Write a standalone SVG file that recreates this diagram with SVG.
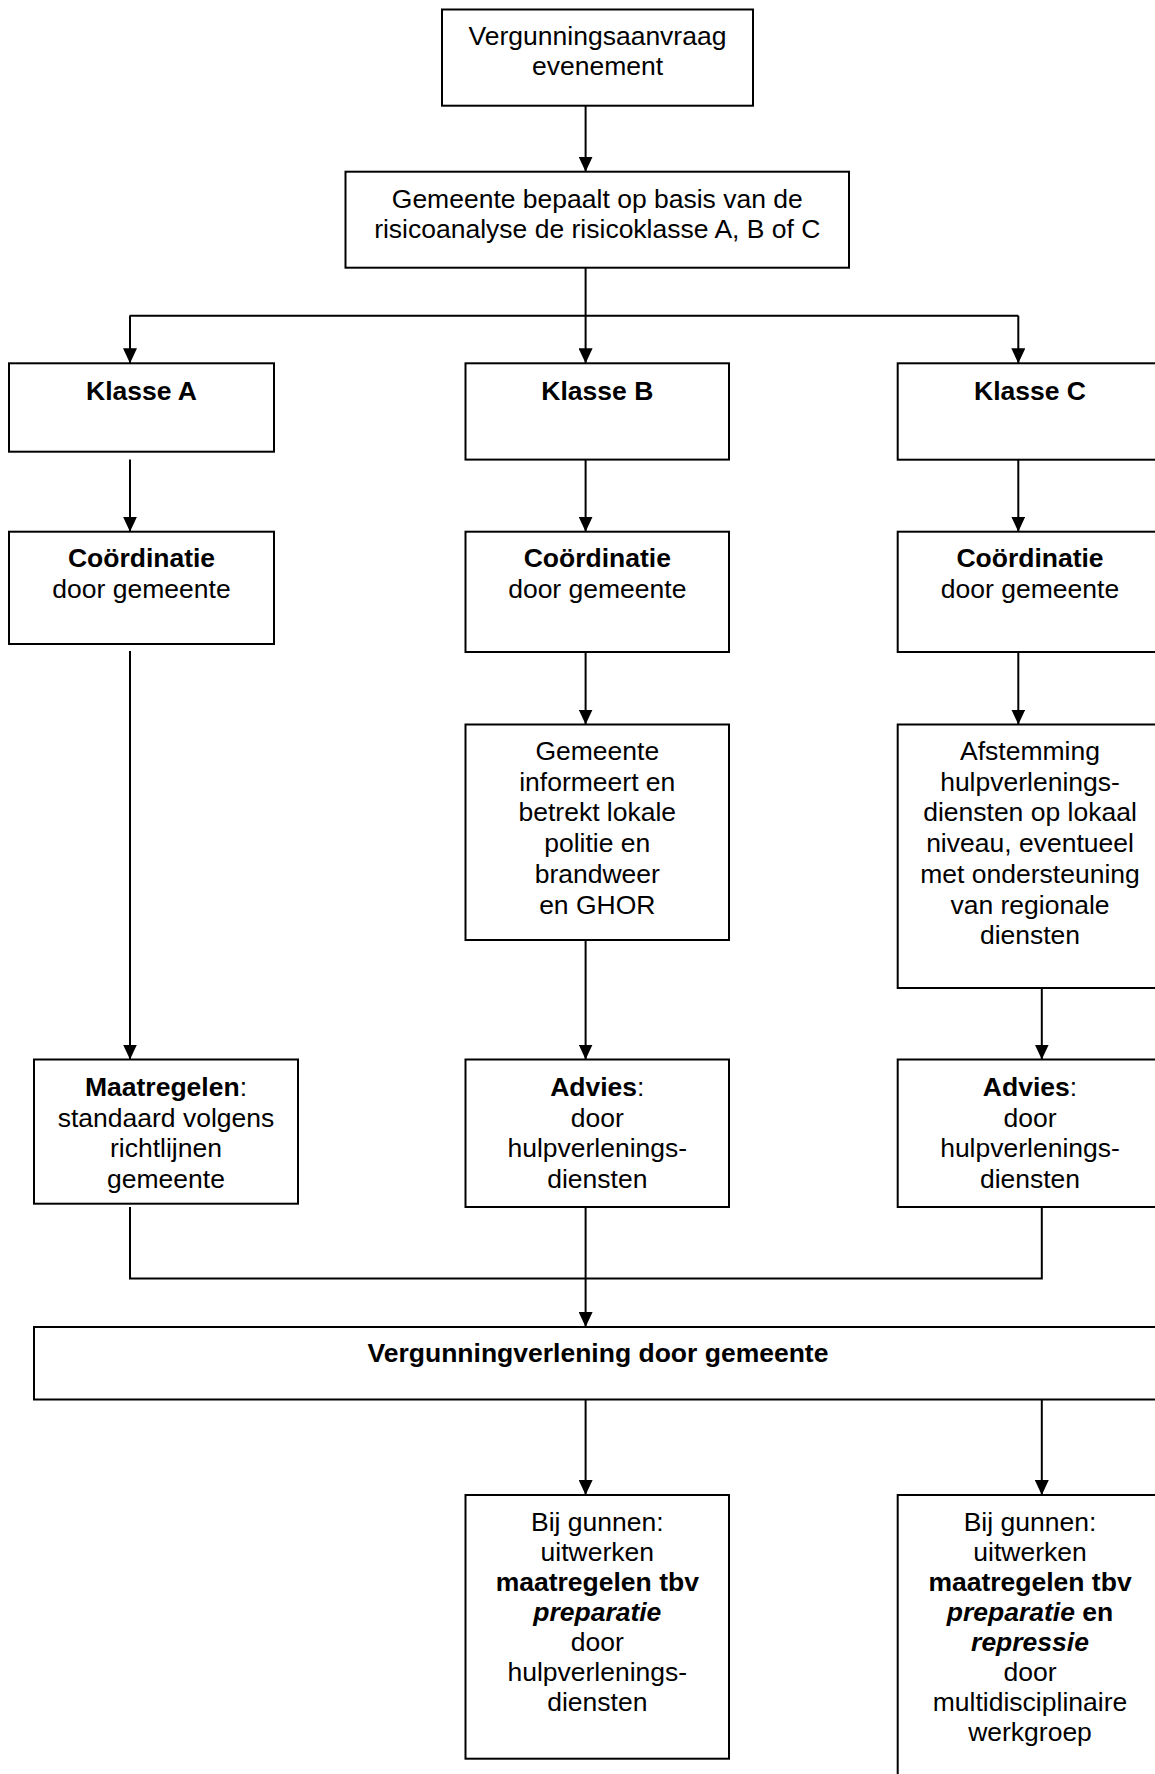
<svg xmlns="http://www.w3.org/2000/svg" width="1155" height="1774" viewBox="0 0 1155 1774">
<style>
  .box { fill: #ffffff; stroke: #000000; stroke-width: 2; }
  .con { fill: none; stroke: #000000; stroke-width: 2; }
  text { font-family: "Liberation Sans", Arial, sans-serif; font-size: 26.5px; fill: #000000; text-anchor: middle; }
  .b { font-weight: bold; }
  .bi { font-weight: bold; font-style: italic; }
</style>
<defs>
  <marker id="arr" markerUnits="userSpaceOnUse" markerWidth="15" markerHeight="14" refX="15" refY="7" orient="auto">
    <path d="M0,0 L15,7 L0,14 Z" fill="#000000"/>
  </marker>
</defs>
<rect width="1155" height="1774" fill="#ffffff"/>

<g id="connectors">
  <line class="con" x1="585.6" y1="105.7" x2="585.6" y2="171.7" marker-end="url(#arr)"/>
  <line class="con" x1="585.6" y1="267.7" x2="585.6" y2="315.7"/>
  <line class="con" x1="129.6" y1="315.7" x2="1018.3" y2="315.7"/>
  <line class="con" x1="130" y1="315.7" x2="130" y2="363.3" marker-end="url(#arr)"/>
  <line class="con" x1="585.6" y1="315.7" x2="585.6" y2="363.3" marker-end="url(#arr)"/>
  <line class="con" x1="1018.3" y1="315.7" x2="1018.3" y2="363.3" marker-end="url(#arr)"/>

  <line class="con" x1="130" y1="459.6" x2="130" y2="531.7" marker-end="url(#arr)"/>
  <line class="con" x1="585.6" y1="459.6" x2="585.6" y2="531.7" marker-end="url(#arr)"/>
  <line class="con" x1="1018.3" y1="459.6" x2="1018.3" y2="531.7" marker-end="url(#arr)"/>

  <line class="con" x1="130" y1="651" x2="130" y2="1059.5" marker-end="url(#arr)"/>
  <line class="con" x1="585.6" y1="652" x2="585.6" y2="724.5" marker-end="url(#arr)"/>
  <line class="con" x1="1018.3" y1="652" x2="1018.3" y2="724.5" marker-end="url(#arr)"/>

  <line class="con" x1="585.6" y1="940" x2="585.6" y2="1059.5" marker-end="url(#arr)"/>
  <line class="con" x1="1041.8" y1="988" x2="1041.8" y2="1059.5" marker-end="url(#arr)"/>

  <polyline class="con" points="130,1207 130,1278.5 1041.8,1278.5 1041.8,1207"/>
  <line class="con" x1="585.6" y1="1207" x2="585.6" y2="1327" marker-end="url(#arr)"/>

  <line class="con" x1="585.6" y1="1399.5" x2="585.6" y2="1495" marker-end="url(#arr)"/>
  <line class="con" x1="1041.8" y1="1399.5" x2="1041.8" y2="1495" marker-end="url(#arr)"/>
</g>

<g id="n-aanvraag">
  <rect class="box" x="442" y="9.5" width="311" height="96.2"/>
  <text x="597.5" y="45">Vergunningsaanvraag</text>
  <text x="597.5" y="75">evenement</text>
</g>

<g id="n-risicoklasse">
  <rect class="box" x="345.5" y="171.7" width="503.5" height="96"/>
  <text x="597.3" y="208">Gemeente bepaalt op basis van de</text>
  <text x="597.3" y="238">risicoanalyse de risicoklasse A, B of C</text>
</g>

<g id="n-klasse-a">
  <rect class="box" x="9" y="363.3" width="265" height="88.4"/>
  <text class="b" x="141.5" y="399.5">Klasse A</text>
</g>
<g id="n-klasse-b">
  <rect class="box" x="465.5" y="363.3" width="263.5" height="96.3"/>
  <text class="b" x="597.3" y="399.5">Klasse B</text>
</g>
<g id="n-klasse-c">
  <rect class="box" x="897.7" y="363.3" width="264.3" height="96.4"/>
  <text class="b" x="1030" y="399.5">Klasse C</text>
</g>

<g id="n-coord-a">
  <rect class="box" x="9" y="531.7" width="265" height="112.3"/>
  <text class="b" x="141.5" y="567">Coördinatie</text>
  <text x="141.5" y="598">door gemeente</text>
</g>
<g id="n-coord-b">
  <rect class="box" x="465.5" y="531.7" width="263.5" height="120.3"/>
  <text class="b" x="597.3" y="567">Coördinatie</text>
  <text x="597.3" y="598">door gemeente</text>
</g>
<g id="n-coord-c">
  <rect class="box" x="897.7" y="531.7" width="264.3" height="120.3"/>
  <text class="b" x="1030" y="567">Coördinatie</text>
  <text x="1030" y="598">door gemeente</text>
</g>

<g id="n-informeert">
  <rect class="box" x="465.5" y="724.5" width="263.5" height="215.5"/>
  <text x="597.3" y="760">Gemeente</text>
  <text x="597.3" y="790.7">informeert en</text>
  <text x="597.3" y="821.4">betrekt lokale</text>
  <text x="597.3" y="852.1">politie en</text>
  <text x="597.3" y="882.8">brandweer</text>
  <text x="597.3" y="913.5">en GHOR</text>
</g>

<g id="n-afstemming">
  <rect class="box" x="897.7" y="724.5" width="264.3" height="263.5"/>
  <text x="1030" y="760">Afstemming</text>
  <text x="1030" y="790.7">hulpverlenings-</text>
  <text x="1030" y="821.4">diensten op lokaal</text>
  <text x="1030" y="852.1">niveau, eventueel</text>
  <text x="1030" y="882.8">met ondersteuning</text>
  <text x="1030" y="913.5">van regionale</text>
  <text x="1030" y="944.2">diensten</text>
</g>

<g id="n-maatregelen">
  <rect class="box" x="34" y="1059.5" width="264" height="144.2"/>
  <text x="166" y="1096"><tspan class="b">Maatregelen</tspan>:</text>
  <text x="166" y="1126.5">standaard volgens</text>
  <text x="166" y="1157">richtlijnen</text>
  <text x="166" y="1187.5">gemeente</text>
</g>
<g id="n-advies-b">
  <rect class="box" x="465.5" y="1059.5" width="263.5" height="147.5"/>
  <text x="597.3" y="1096"><tspan class="b">Advies</tspan>:</text>
  <text x="597.3" y="1126.5">door</text>
  <text x="597.3" y="1157">hulpverlenings-</text>
  <text x="597.3" y="1187.5">diensten</text>
</g>
<g id="n-advies-c">
  <rect class="box" x="897.7" y="1059.5" width="264.3" height="147.5"/>
  <text x="1030" y="1096"><tspan class="b">Advies</tspan>:</text>
  <text x="1030" y="1126.5">door</text>
  <text x="1030" y="1157">hulpverlenings-</text>
  <text x="1030" y="1187.5">diensten</text>
</g>

<g id="n-verlening">
  <rect class="box" x="34" y="1327" width="1128" height="72.5"/>
  <text class="b" x="598" y="1362">Vergunningverlening door gemeente</text>
</g>

<g id="n-gunnen-b">
  <rect class="box" x="465.5" y="1495" width="263.5" height="263.7"/>
  <text x="597.3" y="1530.7">Bij gunnen:</text>
  <text x="597.3" y="1560.7">uitwerken</text>
  <text class="b" x="597.3" y="1590.7">maatregelen tbv</text>
  <text class="bi" x="597.3" y="1620.7">preparatie</text>
  <text x="597.3" y="1650.7">door</text>
  <text x="597.3" y="1680.7">hulpverlenings-</text>
  <text x="597.3" y="1710.7">diensten</text>
</g>

<g id="n-gunnen-c">
  <rect class="box" x="897.7" y="1495" width="264.3" height="300"/>
  <text x="1030" y="1530.7">Bij gunnen:</text>
  <text x="1030" y="1560.7">uitwerken</text>
  <text class="b" x="1030" y="1590.7">maatregelen tbv</text>
  <text class="b" x="1030" y="1620.7"><tspan class="bi">preparatie</tspan> en</text>
  <text class="bi" x="1030" y="1650.7">repressie</text>
  <text x="1030" y="1680.7">door</text>
  <text x="1030" y="1710.7">multidisciplinaire</text>
  <text x="1030" y="1740.7">werkgroep</text>
</g>
</svg>
